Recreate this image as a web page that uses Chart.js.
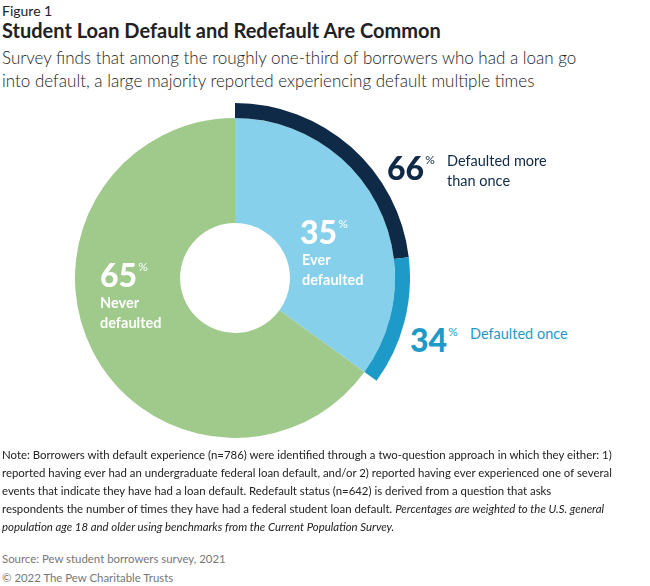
<!DOCTYPE html>
<html lang="en">
<head>
<meta charset="UTF-8">
<script src="https://cdn.jsdelivr.net/npm/chart.js"></script>
<style>
  body { margin: 0; width: 650px; height: 586px; position: relative; font-family: Lato, "Open Sans", sans-serif; color: #222; background: #fff; overflow: hidden; }
  .t { position: absolute; white-space: nowrap; }
  #fig { left: 2px; top: 2px; font-size: 14px; }
  #title { left: 2px; top: 18px; font-size: 20px; font-weight: bold; }
  #sub { left: 2px; top: 46px; font-size: 17px; line-height: 23px; font-weight: 300; }
  #wrap { position: absolute; left: 60px; top: 103px; width: 350px; height: 350px; }
  .big { font-weight: 900; font-size: 32px; }
  .big sup { font-size: 12px; font-weight: 400; vertical-align: 16px; margin-left: 1px; }
  .lab { font-size: 14.5px; line-height: 20px; }
  .w { color: #fff; }
  #note { left: 2px; top: 446px; font-size: 11.4px; line-height: 18px; white-space: normal; width: 612px; }
  #src { left: 2px; top: 552px; font-size: 11.4px; color: #777; }
  #copy { left: 2px; top: 571px; font-size: 11.4px; color: #777; }
</style>
</head>
<body>
<div class="t" id="fig">Figure 1</div>
<div class="t" id="title">Student Loan Default and Redefault Are Common</div>
<div class="t" id="sub">Survey finds that among the roughly one-third of borrowers who had a loan go<br>into default, a large majority reported experiencing default multiple times</div>
<div id="wrap"><canvas id="c" width="350" height="350"></canvas></div>

<div class="t big" style="left:387px;top:148px;color:#0f2a47">66<sup>%</sup></div>
<div class="t lab" style="left:447px;top:151px;color:#0f2a47">Defaulted more<br>than once</div>
<div class="t big" style="left:410px;top:320px;color:#1e9ac8">34<sup>%</sup></div>
<div class="t lab" style="left:470px;top:324px;color:#1e9ac8">Defaulted once</div>

<div class="t big w" style="left:300px;top:212px">35<sup>%</sup></div>
<div class="t lab w" style="left:302px;top:250px;font-weight:bold">Ever<br>defaulted</div>
<div class="t big w" style="left:100px;top:255px">65<sup>%</sup></div>
<div class="t lab w" style="left:100px;top:293px;font-weight:bold">Never<br>defaulted</div>

<div class="t" id="note">Note: Borrowers with default experience (n=786) were identified through a two-question approach in which they either: 1) reported having ever had an undergraduate federal loan default, and/or 2) reported having ever experienced one of several events that indicate they have had a loan default. Redefault status (n=642) is derived from a question that asks respondents the number of times they have had a federal student loan default. <i>Percentages are weighted to the U.S. general population age 18 and older using benchmarks from the Current Population Survey.</i></div>
<div class="t" id="src">Source: Pew student borrowers survey, 2021</div>
<div class="t" id="copy">© 2022 The Pew Charitable Trusts</div>

<script>
  const everDefaulted = 35;
  const neverDefaulted = 65;
  const multiShare = 66;
  const onceShare = 34;

  const outerValues = [everDefaulted * multiShare / 100, everDefaulted * onceShare / 100, neverDefaulted];
  const innerValues = [everDefaulted, neverDefaulted];

  new Chart(document.getElementById('c'), {
    type: 'doughnut',
    data: {
      labels: ['Defaulted more than once', 'Defaulted once', 'Never defaulted'],
      datasets: [
        { data: outerValues, backgroundColor: ['#0f2a47', '#1e9ac8', 'rgba(0,0,0,0)'], borderWidth: 0, weight: 15 },
        { data: innerValues, backgroundColor: ['#86d0ec', '#9fca8c'], borderWidth: 0, weight: 105 }
      ]
    },
    options: {
      responsive: false,
      animation: false,
      cutout: '31.4%',
      layout: { padding: 0 },
      plugins: { legend: { display: false }, tooltip: { enabled: false } }
    }
  });
</script>
</body>
</html>
